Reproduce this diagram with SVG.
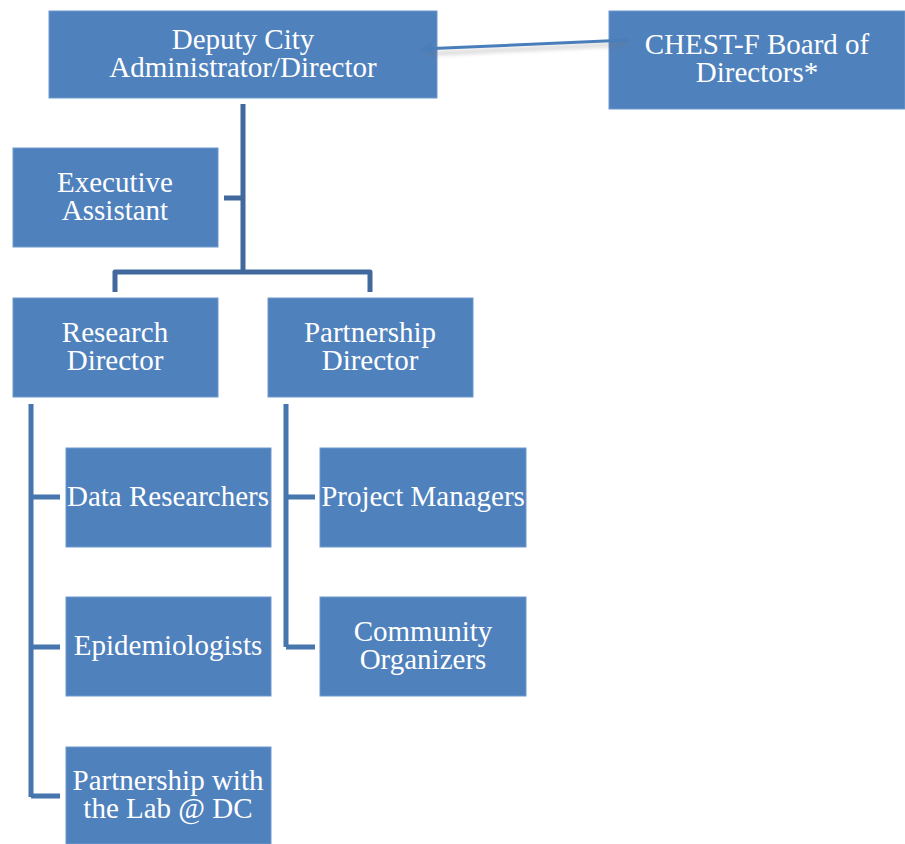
<svg xmlns="http://www.w3.org/2000/svg" width="905" height="844" viewBox="0 0 905 844">
<style>
.box{fill:#4f81bd;stroke:#6f98cc;stroke-width:1}
.t{font-family:"Liberation Serif","Times New Roman",serif;font-size:29px;fill:#ffffff;text-anchor:middle}
.c1{fill:none;stroke:#41699d;stroke-width:5;stroke-linejoin:round}
.c2{fill:none;stroke:#4775ae;stroke-width:5;stroke-linejoin:round}
.ar{fill:none;stroke:#4a7ebb;stroke-width:3}
</style>
<defs>
<marker id="ah" viewBox="0 0 10 10" refX="9" refY="5" markerWidth="5.5" markerHeight="5" orient="auto" markerUnits="strokeWidth">
<path d="M0,0 L10,5 L0,10 L3,5 Z" fill="#4a7ebb"/>
</marker>
<filter id="sh" x="-10%" y="-100%" width="120%" height="300%">
<feGaussianBlur stdDeviation="2"/>
</filter>
</defs>
<g id="deputy"><rect class="box" x="49" y="11" width="388" height="87"/>
<text class="t" x="243" y="49">Deputy City</text><text class="t" x="243" y="77">Administrator/Director</text></g>
<g id="chest"><rect class="box" x="609" y="11" width="296" height="98"/>
<text class="t" x="757" y="54">CHEST-F Board of</text><text class="t" x="757" y="82">Directors*</text></g>
<g id="exec"><rect class="box" x="13" y="148" width="205" height="99"/>
<text class="t" x="115" y="192">Executive</text><text class="t" x="115" y="220">Assistant</text></g>
<g id="research"><rect class="box" x="13" y="298" width="205" height="99"/>
<text class="t" x="115" y="342">Research</text><text class="t" x="115" y="370">Director</text></g>
<g id="partnership"><rect class="box" x="268" y="298" width="205" height="99"/>
<text class="t" x="370" y="342">Partnership</text><text class="t" x="370" y="370">Director</text></g>
<g id="data"><rect class="box" x="66" y="448" width="205" height="99"/>
<text class="t" x="168" y="506">Data Researchers</text></g>
<g id="epi"><rect class="box" x="66" y="597" width="205" height="99"/>
<text class="t" x="168" y="655">Epidemiologists</text></g>
<g id="lab"><rect class="box" x="66" y="747" width="205" height="97"/>
<text class="t" x="168" y="790">Partnership with</text><text class="t" x="168" y="818">the Lab @ DC</text></g>
<g id="pm"><rect class="box" x="320" y="448" width="206" height="99"/>
<text class="t" x="423" y="506">Project Managers</text></g>
<g id="co"><rect class="box" x="320" y="597" width="206" height="99"/>
<text class="t" x="423" y="641">Community</text><text class="t" x="423" y="669">Organizers</text></g>
<g id="connectors">
<path class="c1" d="M243,104 V272 M224,198 H243 M115,292 V272 H370 V292"/>
<path class="c2" d="M31,404 V797 M31,497 H60 M31,647 H60 M31,796 H60"/>
<path class="c2" d="M286,404 V647 M286,497 H315 M286,647 H315"/>
<line x1="628" y1="44" x2="424" y2="54" stroke="#777" stroke-width="3" opacity="0.4" filter="url(#sh)"/>
<line class="ar" x1="628" y1="40" x2="421" y2="49" marker-end="url(#ah)"/>
</g>
</svg>
